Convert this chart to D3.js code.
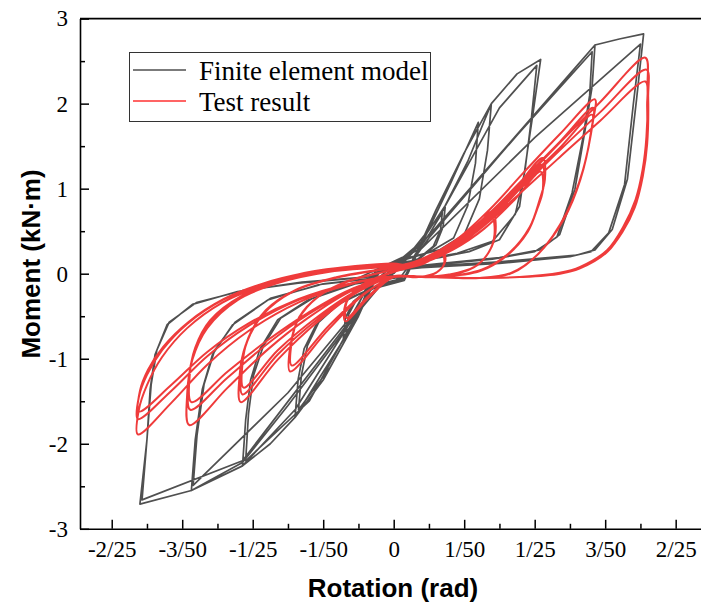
<!DOCTYPE html>
<html>
<head>
<meta charset="utf-8">
<script src="https://cdn.jsdelivr.net/npm/d3@7"></script>
<style>
  body { margin: 0; background: #fff; overflow: hidden; }
  svg { display: block; }
</style>
</head>
<body>
<svg id="chart" width="701" height="604"></svg>
<script>
// rotation ticks (rad) and their fraction labels
const xTicks = [-0.08, -0.06, -0.04, -0.02, 0, 0.02, 0.04, 0.06, 0.08];
const xTickLabels = ['-2/25', '-3/50', '-1/25', '-1/50', '0', '1/50', '1/25', '3/50', '2/25'];
const xMinor = [-0.07, -0.05, -0.03, -0.01, 0.01, 0.03, 0.05, 0.07];
const yTicks = [-3, -2, -1, 0, 1, 2, 3];
const yMinor = [-2.5, -1.5, -0.5, 0.5, 1.5, 2.5];

// finite element model, [rotation, moment] by load level
const feL1 = [
  [0, 0], [0.005, 0.26], [0.010, 0.52], [0.0146, 0.78],
  [0.0140, 0.55], [0.0120, 0.34], [0.0075, 0.18], [0.002, 0.11], [-0.004, 0.04],
  [-0.006, -0.12], [-0.010, -0.45], [-0.0143, -0.76],
  [-0.0137, -0.52], [-0.0115, -0.33], [-0.0080, -0.21], [-0.003, -0.11], [0.003, -0.05],
  [0.006, 0.22], [0.010, 0.46], [0.0138, 0.72],
  [0.0133, 0.52], [0.0112, 0.32], [0.0065, 0.16], [0.0, 0.09], [-0.004, 0.03],
  [-0.008, -0.32], [-0.0135, -0.70],
  [-0.0128, -0.48], [-0.0105, -0.30], [-0.006, -0.18], [0.0, -0.09], [0.004, 0.0]
];
const feL2 = [
  [0.009, 0.45], [0.0146, 0.80], [0.021, 1.32], [0.0277, 2.0],
  [0.0266, 1.45], [0.0243, 0.88], [0.0200, 0.46], [0.0130, 0.28], [0.0043, 0.19], [-0.004, 0.08],
  [-0.009, -0.40], [-0.0143, -0.78], [-0.021, -1.22], [-0.0280, -1.69],
  [-0.0271, -1.24], [-0.0254, -0.88], [-0.0220, -0.60], [-0.0157, -0.36], [-0.0071, -0.19], [0.003, -0.08],
  [0.008, 0.35], [0.016, 1.05], [0.0240, 1.78],
  [0.0232, 1.30], [0.0210, 0.80], [0.0170, 0.42], [0.0100, 0.25], [0.002, 0.15], [-0.004, 0.05],
  [-0.010, -0.50], [-0.018, -1.10], [-0.0270, -1.60],
  [-0.0262, -1.20], [-0.0245, -0.85], [-0.021, -0.55], [-0.015, -0.33], [-0.006, -0.17], [0.003, -0.07]
];
const feL3 = [
  [0.012, 0.75], [0.020, 1.42], [0.0277, 2.0], [0.035, 2.35], [0.0417, 2.52],
  [0.0394, 1.85], [0.0380, 1.46], [0.0357, 0.79], [0.0300, 0.40], [0.0214, 0.26], [0.0129, 0.19], [0.0014, 0.13], [-0.005, 0.05],
  [-0.012, -0.65], [-0.020, -1.25], [-0.0280, -1.69], [-0.035, -2.0], [-0.0429, -2.26],
  [-0.0420, -1.72], [-0.0406, -1.25], [-0.0380, -0.89], [-0.0329, -0.54], [-0.0243, -0.31], [-0.0129, -0.13], [-0.0014, -0.05],
  [0.010, 0.45], [0.020, 1.20], [0.030, 1.95], [0.0406, 2.45],
  [0.0390, 1.80], [0.0372, 1.20], [0.0345, 0.70], [0.028, 0.38], [0.018, 0.24], [0.006, 0.15], [-0.004, 0.06],
  [-0.012, -0.60], [-0.024, -1.50], [-0.0420, -2.20],
  [-0.0412, -1.65], [-0.0398, -1.20], [-0.0370, -0.85], [-0.032, -0.52], [-0.023, -0.29], [-0.011, -0.12], [0.002, -0.04]
];
const feL4 = [
  [0.010, 0.42], [0.030, 1.39], [0.0571, 2.69],
  [0.0563, 2.20], [0.0543, 1.69], [0.0514, 0.99], [0.0471, 0.46], [0.0414, 0.28], [0.030, 0.19], [0.0129, 0.12], [0.0014, 0.07], [-0.006, 0.0],
  [-0.012, -0.55], [-0.028, -1.60], [-0.0429, -2.26], [-0.0574, -2.55],
  [-0.0563, -1.95], [-0.0543, -1.36], [-0.0514, -0.95], [-0.0457, -0.60], [-0.0357, -0.31], [-0.0214, -0.13], [-0.0043, -0.05],
  [0.010, 0.45], [0.030, 1.40], [0.0563, 2.61],
  [0.0556, 2.10], [0.0537, 1.60], [0.0506, 0.95], [0.0463, 0.43], [0.040, 0.26], [0.028, 0.17], [0.010, 0.10], [-0.005, 0.02],
  [-0.012, -0.50], [-0.030, -1.40], [-0.0569, -2.49],
  [-0.0558, -1.90], [-0.0538, -1.30], [-0.0508, -0.90], [-0.045, -0.57], [-0.035, -0.29], [-0.020, -0.12], [-0.003, -0.04]
];
const feL5 = [
  [0.010, 0.45], [0.030, 1.40], [0.0571, 2.69], [0.064, 2.76], [0.0709, 2.82],
  [0.0689, 2.05], [0.0663, 1.11], [0.0620, 0.52], [0.0571, 0.28], [0.052, 0.22], [0.030, 0.14], [0.010, 0.09], [0.0, 0.05],
  [-0.010, -0.45], [-0.030, -1.55], [-0.0429, -2.22], [-0.0574, -2.55], [-0.0720, -2.71],
  [-0.0700, -1.95], [-0.0691, -1.36], [-0.0677, -0.95], [-0.0643, -0.60], [-0.0571, -0.36], [-0.0443, -0.21], [-0.0271, -0.11], [-0.010, -0.05],
  [0.008, 0.30], [0.040, 1.60], [0.0700, 2.70],
  [0.0680, 2.0], [0.0655, 1.05], [0.0610, 0.48], [0.056, 0.26], [0.050, 0.20], [0.030, 0.12], [0.008, 0.07], [-0.004, 0.02],
  [-0.010, -0.42], [-0.0429, -2.20], [-0.0714, -2.66],
  [-0.0700, -1.95], [-0.0688, -1.30], [-0.0672, -0.90], [-0.0637, -0.57], [-0.056, -0.34], [-0.043, -0.20], [-0.026, -0.10], [-0.008, -0.04], [0.0, -0.02]
];

// test result, [rotation, moment] by load level
const testL1 = [
  [0, 0.03], [0.0086, 0.14], [0.0140, 0.26],
  [0.0146, 0.14], [0.0123, 0.02], [0.0071, -0.04], [0, -0.04],
  [-0.0071, -0.28], [-0.0137, -0.56],
  [-0.0137, -0.36], [-0.0100, -0.16], [0, 0.02],
  [0.0086, 0.12], [0.0137, 0.23],
  [0.0143, 0.12], [0.0120, 0.01], [0.0068, -0.04], [0, -0.03],
  [-0.0071, -0.26], [-0.0134, -0.52],
  [-0.0134, -0.34], [-0.0097, -0.15], [0, 0.03]
];
const testL2 = [
  [0.0071, 0.14], [0.0143, 0.26], [0.0214, 0.46], [0.0280, 0.73],
  [0.0289, 0.49], [0.0271, 0.26], [0.0229, 0.08], [0.0157, -0.01], [0.0071, -0.04], [0, -0.04],
  [-0.0086, -0.25], [-0.0186, -0.66], [-0.0294, -1.15],
  [-0.0294, -0.87], [-0.0271, -0.54], [-0.0214, -0.27], [-0.0129, -0.09], [0, 0.05],
  [0.0071, 0.13], [0.0143, 0.24], [0.0214, 0.43], [0.0277, 0.68],
  [0.0286, 0.46], [0.0268, 0.24], [0.0226, 0.07], [0.0154, -0.02], [0.0068, -0.04], [0, -0.04],
  [-0.0086, -0.24], [-0.0186, -0.62], [-0.0289, -1.08],
  [-0.0290, -0.82], [-0.0268, -0.51], [-0.0211, -0.26], [-0.0126, -0.08], [0, 0.05]
];
const testL3 = [
  [0.0086, 0.16], [0.0171, 0.33], [0.0257, 0.61], [0.0343, 0.99], [0.0423, 1.36],
  [0.0429, 1.11], [0.0414, 0.87], [0.0386, 0.55], [0.0329, 0.25], [0.0251, 0.05], [0.0129, -0.04], [0, -0.04],
  [-0.0100, -0.21], [-0.0214, -0.56], [-0.0329, -1.01], [-0.0434, -1.51],
  [-0.0437, -1.19], [-0.0420, -0.84], [-0.0371, -0.48], [-0.0286, -0.21], [-0.0171, -0.05], [0, 0.07],
  [0.0086, 0.15], [0.0171, 0.31], [0.0257, 0.57], [0.0343, 0.93], [0.0420, 1.28],
  [0.0426, 1.05], [0.0411, 0.82], [0.0383, 0.52], [0.0326, 0.23], [0.0248, 0.04], [0.0126, -0.04], [0, -0.04],
  [-0.0100, -0.20], [-0.0214, -0.53], [-0.0329, -0.95], [-0.0429, -1.42],
  [-0.0432, -1.12], [-0.0415, -0.79], [-0.0366, -0.45], [-0.0281, -0.20], [-0.0166, -0.05], [0, 0.07],
  [0.0086, 0.14], [0.0171, 0.29], [0.0257, 0.53], [0.0343, 0.87], [0.0417, 1.20],
  [0.0423, 0.98], [0.0408, 0.77], [0.0380, 0.49], [0.0323, 0.22], [0.0245, 0.03], [0.0123, -0.04], [0, -0.04],
  [-0.0100, -0.19], [-0.0214, -0.50], [-0.0329, -0.90], [-0.0426, -1.34],
  [-0.0429, -1.06], [-0.0412, -0.75], [-0.0363, -0.43], [-0.0278, -0.19], [-0.0163, -0.04], [0, 0.08]
];
const testL4 = [
  [0.0071, 0.16], [0.0171, 0.38], [0.0271, 0.75], [0.0371, 1.20], [0.0471, 1.64], [0.0571, 2.05],
  [0.0566, 1.81], [0.0537, 1.22], [0.0491, 0.72], [0.0414, 0.25], [0.0337, 0.01], [0.0243, -0.05], [0.0129, -0.04], [0, -0.04],
  [-0.0114, -0.19], [-0.0243, -0.52], [-0.0357, -0.89], [-0.0471, -1.34], [-0.0580, -1.78],
  [-0.0586, -1.42], [-0.0571, -1.01], [-0.0529, -0.64], [-0.0443, -0.31], [-0.0329, -0.11], [-0.0186, 0.02], [0, 0.09],
  [0.0071, 0.15], [0.0171, 0.36], [0.0271, 0.71], [0.0371, 1.13], [0.0471, 1.55], [0.0566, 1.95],
  [0.0562, 1.72], [0.0533, 1.16], [0.0487, 0.68], [0.0410, 0.23], [0.0333, 0.01], [0.0240, -0.05], [0.0126, -0.04], [0, -0.04],
  [-0.0114, -0.18], [-0.0243, -0.48], [-0.0357, -0.82], [-0.0471, -1.22], [-0.0577, -1.60],
  [-0.0582, -1.28], [-0.0566, -0.92], [-0.0524, -0.58], [-0.0438, -0.28], [-0.0324, -0.10], [-0.0183, 0.03], [0, 0.09],
  [0.0071, 0.14], [0.0171, 0.34], [0.0271, 0.68], [0.0371, 1.08], [0.0471, 1.48], [0.0563, 1.87],
  [0.0559, 1.65], [0.0530, 1.11], [0.0484, 0.65], [0.0407, 0.22], [0.0330, 0.0], [0.0237, -0.05], [0.0123, -0.04], [0, -0.04],
  [-0.0114, -0.17], [-0.0243, -0.46], [-0.0357, -0.78], [-0.0471, -1.15], [-0.0574, -1.51],
  [-0.0579, -1.21], [-0.0563, -0.87], [-0.0521, -0.55], [-0.0435, -0.27], [-0.0321, -0.09], [-0.0180, 0.03], [0, 0.10]
];
const testL5 = [
  [0.0043, 0.11], [0.0129, 0.22], [0.0243, 0.58], [0.0357, 1.05], [0.0471, 1.54], [0.0586, 2.02], [0.0714, 2.54],
  [0.0720, 2.20], [0.0717, 1.61], [0.0706, 1.22], [0.0686, 0.87], [0.0651, 0.55], [0.0606, 0.28], [0.0529, 0.08], [0.0471, 0.01], [0.0357, -0.04], [0.0214, -0.05], [0.0100, -0.04], [0, -0.03],
  [-0.0129, -0.13], [-0.0271, -0.34], [-0.0414, -0.68], [-0.0529, -1.07], [-0.0629, -1.51], [-0.0726, -1.89],
  [-0.0723, -1.60], [-0.0700, -1.31], [-0.0657, -0.98], [-0.0586, -0.64], [-0.0486, -0.34], [-0.0377, -0.15], [-0.0251, 0], [-0.0109, 0.08], [0, 0.11],
  [0.0043, 0.10], [0.0129, 0.21], [0.0243, 0.55], [0.0357, 0.99], [0.0471, 1.45], [0.0586, 1.90], [0.0717, 2.40],
  [0.0722, 2.08], [0.0719, 1.52], [0.0707, 1.15], [0.0687, 0.82], [0.0652, 0.52], [0.0607, 0.26], [0.0530, 0.07], [0.0472, 0.0], [0.0358, -0.04], [0.0215, -0.05], [0.0101, -0.04], [0, -0.03],
  [-0.0129, -0.12], [-0.0271, -0.31], [-0.0414, -0.62], [-0.0529, -0.97], [-0.0629, -1.37], [-0.0726, -1.71],
  [-0.0723, -1.45], [-0.0700, -1.19], [-0.0657, -0.90], [-0.0586, -0.59], [-0.0486, -0.31], [-0.0377, -0.13], [-0.0251, 0.01], [-0.0109, 0.09], [0, 0.12],
  [0.0043, 0.10], [0.0129, 0.20], [0.0243, 0.52], [0.0357, 0.94], [0.0471, 1.37], [0.0586, 1.80], [0.0714, 2.26],
  [0.0719, 1.97], [0.0716, 1.44], [0.0704, 1.09], [0.0684, 0.78], [0.0649, 0.49], [0.0604, 0.25], [0.0527, 0.06], [0.0469, 0.0], [0.0355, -0.04], [0.0212, -0.05], [0.0098, -0.04], [0, -0.03],
  [-0.0129, -0.12], [-0.0271, -0.30], [-0.0414, -0.59], [-0.0529, -0.92], [-0.0629, -1.30], [-0.0723, -1.62],
  [-0.0720, -1.38], [-0.0697, -1.13], [-0.0654, -0.86], [-0.0583, -0.57], [-0.0483, -0.30], [-0.0374, -0.12], [-0.0248, 0.01], [-0.0106, 0.09], [0, 0.12]
];

const feModel = [].concat(feL1, feL2, feL3, feL4, feL5);
const testResult = [].concat(testL1, testL2, testL3, testL4, testL5);

const series = [
  { name: 'Finite element model', data: feModel, color: '#505050', width: 1.7, curve: d3.curveLinear },
  { name: 'Test result', data: testResult, color: '#ef3b3b', width: 2, curve: d3.curveCatmullRom.alpha(0.5) }
];

const svg = d3.select('#chart');
const plotLeft = 80, plotRight = 707.4, plotTop = 18.6, plotBottom = 528.8;

const x = d3.scaleLinear().domain([-0.089, 0.089]).range([plotLeft, plotRight]);
const y = d3.scaleLinear().domain([-3, 3]).range([plotBottom, plotTop]);

// minor ticks first
svg.append('g')
  .attr('transform', `translate(0,${plotBottom})`)
  .call(d3.axisBottom(x).tickValues(xMinor).tickSize(-5).tickSizeOuter(0).tickFormat(''))
  .call(g => g.select('.domain').remove())
  .selectAll('line').attr('stroke', '#000').attr('stroke-width', 1.5);

svg.append('g')
  .attr('transform', `translate(${plotLeft},0)`)
  .call(d3.axisLeft(y).tickValues(yMinor).tickSize(-5).tickSizeOuter(0).tickFormat(''))
  .call(g => g.select('.domain').remove())
  .selectAll('line').attr('stroke', '#000').attr('stroke-width', 1.5);

// major axes
const xAxis = svg.append('g')
  .attr('transform', `translate(0,${plotBottom})`)
  .call(d3.axisBottom(x).tickValues(xTicks).tickSizeInner(-9).tickSizeOuter(0).tickPadding(12)
    .tickFormat((d, i) => xTickLabels[i]));

const yAxis = svg.append('g')
  .attr('transform', `translate(${plotLeft},0)`)
  .call(d3.axisLeft(y).tickValues(yTicks).tickSizeInner(-9).tickSizeOuter(0).tickPadding(12)
    .tickFormat(d => String(d)));

[xAxis, yAxis].forEach(g => {
  g.select('.domain').attr('stroke', '#000').attr('stroke-width', 1.6);
  g.selectAll('.tick line').attr('stroke', '#000').attr('stroke-width', 1.5);
  g.selectAll('.tick text')
    .attr('fill', '#000')
    .style('font-family', '"Liberation Serif", "Times New Roman", serif')
    .style('font-size', '23px');
});

// top frame line, the right edge lies outside the picture
svg.append('line')
  .attr('x1', plotLeft).attr('x2', plotRight).attr('y1', plotTop).attr('y2', plotTop)
  .attr('stroke', '#000').attr('stroke-width', 1.6);

// hysteresis curves
series.forEach(s => {
  const line = d3.line()
    .x(d => x(d[0]))
    .y(d => y(d[1]))
    .curve(s.curve);
  svg.append('path')
    .datum(s.data)
    .attr('d', line)
    .attr('fill', 'none')
    .attr('stroke', s.color)
    .attr('stroke-width', s.width)
    .attr('stroke-linejoin', 'round');
});

// axis titles
svg.append('text')
  .attr('x', 393).attr('y', 597)
  .attr('text-anchor', 'middle')
  .style('font-family', '"Liberation Sans", Arial, sans-serif')
  .style('font-weight', 'bold')
  .style('font-size', '26px')
  .text('Rotation (rad)');

svg.append('text')
  .attr('transform', 'translate(40,264) rotate(-90)')
  .attr('text-anchor', 'middle')
  .style('font-family', '"Liberation Sans", Arial, sans-serif')
  .style('font-weight', 'bold')
  .style('font-size', '26px')
  .text('Moment (kN·m)');

// legend
const legend = svg.append('g');
legend.append('rect')
  .attr('x', 129.5).attr('y', 52.5).attr('width', 301).attr('height', 69)
  .attr('fill', '#fff').attr('stroke', '#333').attr('stroke-width', 1);

series.forEach((s, i) => {
  const cy = 70 + i * 31;
  legend.append('line')
    .attr('x1', 133).attr('x2', 186).attr('y1', cy).attr('y2', cy)
    .attr('stroke', i === 0 ? '#4f4f4f' : '#ff3030').attr('stroke-width', 1.5);
  legend.append('text')
    .attr('x', 199).attr('y', cy + 10)
    .style('font-family', '"Liberation Serif", "Times New Roman", serif')
    .style('font-size', '27px')
    .attr('fill', '#000')
    .text(s.name);
});
</script>
</body>
</html>
